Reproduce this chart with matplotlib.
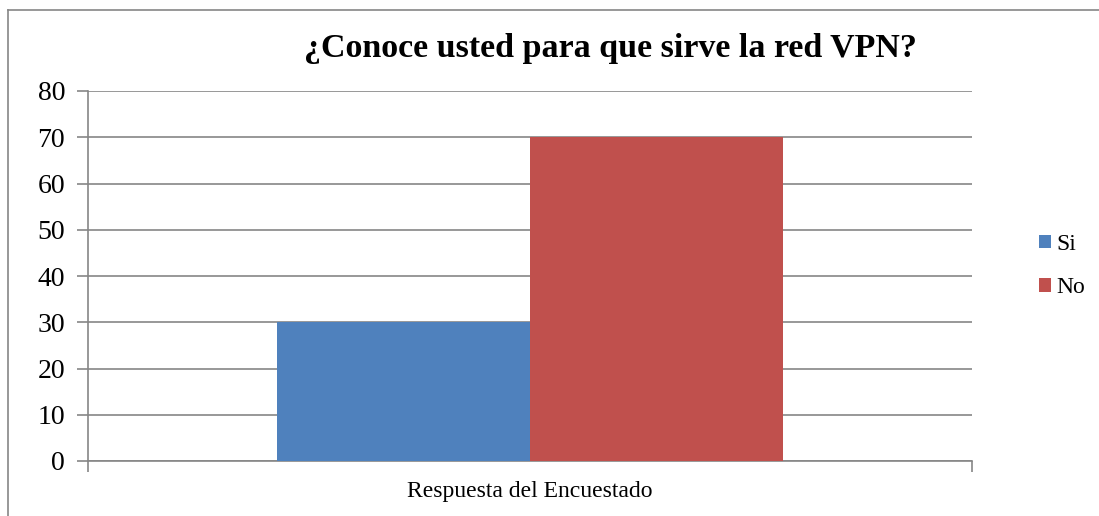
import matplotlib.pyplot as plt
from matplotlib.lines import Line2D

categories = ['Si', 'No']
values = [30, 70]
colors = ['#4F81BD', '#C0504D']
title = '¿Conoce usted para que sirve la red VPN?'
xlabel = 'Respuesta del Encuestado'
yticks = [0, 10, 20, 30, 40, 50, 60, 70, 80]

plt.rcParams['font.family'] = ['Liberation Serif', 'DejaVu Serif']

W, H = 1099, 516
fig = plt.figure(figsize=(W / 100, H / 100), dpi=100)
ax = fig.add_axes([88 / W, 1 - 461 / H, (972 - 88) / W, (461 - 91) / H])

# bars placed side by side inside the single category
bar_w = 0.2857
start = 0.5 - bar_w
for i, (c, v) in enumerate(zip(categories, values)):
    ax.bar(start + i * bar_w, v, width=bar_w, align='edge', color=colors[i],
           label=c, zorder=3)

ax.set_xlim(0, 1)
ax.set_ylim(0, 80)
ax.set_yticks(yticks)
ax.yaxis.grid(True, color='#868686', linewidth=1.2, zorder=0)
ax.set_xticks([0, 1])
ax.set_xticklabels(['', ''])
ax.tick_params(axis='both', direction='out', length=8, width=1.2, color='#868686',
               labelsize=20, pad=8.5)
for s in ['top', 'right']:
    ax.spines[s].set_visible(False)
for s in ['left', 'bottom']:
    ax.spines[s].set_color('#868686')
    ax.spines[s].set_linewidth(1.2)

fig.text(530 / W, 1 - 492 / H, xlabel, ha='center', va='center', fontsize=17)
fig.text(610 / W, 1 - 49 / H, title, ha='center', va='center', fontsize=24.5,
         fontweight='bold')

leg = fig.legend(loc='center left', bbox_to_anchor=(1039 / W, 1 - 266 / H),
                 frameon=False, fontsize=17, handlelength=0.5, handleheight=0.5,
                 handletextpad=0.25, labelspacing=0.95, borderaxespad=0,
                 borderpad=0)

# outer chart frame (only left and top visible in the crop)
fig.add_artist(Line2D([8 / W, 8 / W], [0, 1 - 10 / H], transform=fig.transFigure,
                      color='#868686', linewidth=1.2))
fig.add_artist(Line2D([8 / W, 1], [1 - 10 / H, 1 - 10 / H], transform=fig.transFigure,
                      color='#868686', linewidth=1.2))

fig.savefig('out.png', dpi=100)
